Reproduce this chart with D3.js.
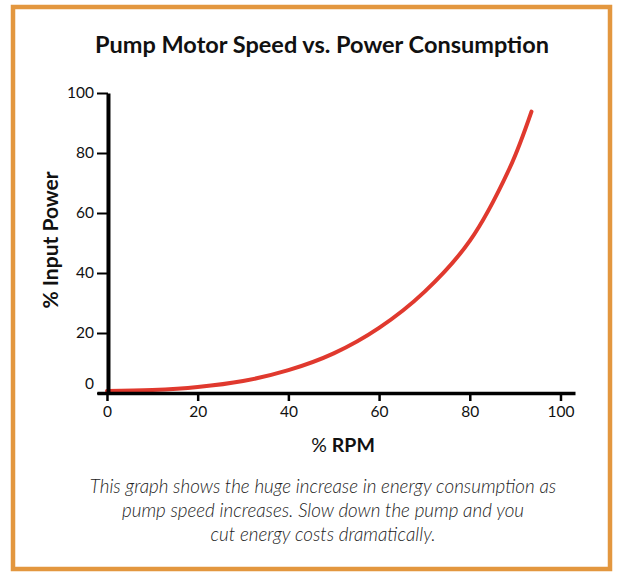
<!DOCTYPE html>
<html>
<head>
<meta charset="utf-8">
<script src="https://cdn.jsdelivr.net/npm/d3@7"></script>
<style>
  html, body { margin: 0; padding: 0; background: #fff; }
  svg { display: block; }
  text { font-family: Lato, "Open Sans", sans-serif; }
</style>
</head>
<body>
<svg id="chart" width="626" height="585"></svg>
<script>
// ---- data ----
const rpm   = [0, 10, 20, 30, 40, 50, 60, 70, 80, 88.8, 93.6];
const power = [0.7, 1.0, 2.0, 4.0, 7.6, 13.2, 21.7, 33.7, 50.7, 75.0, 93.8];
const xTicks = [0, 20, 40, 60, 80, 100];
const yTicks = [0, 20, 40, 60, 80, 100];
const titleText = "Pump Motor Speed vs. Power Consumption";
const xTitle = ["% ", "RPM"];
const yTitle = "% Input Power";
const captionLines = [
  "This graph shows the huge increase in energy consumption as",
  "pump speed increases. Slow down the pump and you",
  "cut energy costs dramatically."
];

const svg = d3.select("#chart");

// frame
svg.append("rect")
  .attr("x", 13).attr("y", 7)
  .attr("width", 597).attr("height", 562)
  .attr("fill", "#fff")
  .attr("stroke", "#E3973F")
  .attr("stroke-width", 4.5);

// title
svg.append("text")
  .attr("x", 322).attr("y", 53)
  .attr("text-anchor", "middle")
  .attr("font-size", 23.5)
  .attr("font-weight", 700)
  .attr("fill", "#111")
  .text(titleText);

// scales
const x = d3.scaleLinear().domain([-2.2, 103.2]).range([97, 575]);
const y = d3.scaleLinear().domain([0, 100]).range([393, 93]);

// curve (drawn first so axes sit on top)
const pts = rpm.map((r, i) => [r, power[i]]);
svg.append("path")
  .datum(pts)
  .attr("fill", "none")
  .attr("stroke", "#E0392E")
  .attr("stroke-width", 4)
  .attr("stroke-linecap", "round")
  .attr("d", d3.line()
    .x(d => x(d[0]))
    .y(d => y(d[1]))
    .curve(d3.curveCatmullRom.alpha(0.5)));

// x axis
const gx = svg.append("g")
  .attr("transform", `translate(0,${y(0)})`)
  .call(d3.axisBottom(x).tickValues(xTicks).tickSize(8).tickSizeOuter(0).tickPadding(5));
gx.select(".domain").attr("stroke", "#000").attr("stroke-width", 3.5);
gx.selectAll(".tick line").attr("stroke", "#000").attr("stroke-width", 2.5);
gx.selectAll(".tick text")
  .attr("font-size", 15.5)
  .attr("fill", "#111")
  .style("font-family", "Lato, 'Open Sans', sans-serif");

// y axis
const gy = svg.append("g")
  .attr("transform", `translate(${x(0) + 1},0)`)
  .call(d3.axisLeft(y).tickValues(yTicks).tickSize(11).tickSizeOuter(0).tickPadding(3));
gy.select(".domain").attr("stroke", "#000").attr("stroke-width", 4);
gy.selectAll(".tick line").attr("stroke", "#000").attr("stroke-width", 2);
gy.selectAll(".tick text")
  .attr("font-size", 15.5)
  .attr("fill", "#111")
  .style("font-family", "Lato, 'Open Sans', sans-serif")
  .attr("dy", d => d === 0 ? "-0.3em" : "0.32em");

// axis titles
const xt = svg.append("text")
  .attr("x", 343).attr("y", 452)
  .attr("text-anchor", "middle")
  .attr("font-size", 19.5)
  .attr("fill", "#111");
xt.append("tspan").attr("font-weight", 400).text(xTitle[0]);
xt.append("tspan").attr("font-weight", 700).text(xTitle[1]);

svg.append("text")
  .attr("transform", "translate(58,240) rotate(-90)")
  .attr("text-anchor", "middle")
  .attr("font-size", 21)
  .attr("font-weight", 700)
  .attr("fill", "#111")
  .text(yTitle);

// caption
svg.append("g").selectAll("text")
  .data(captionLines)
  .join("text")
  .attr("x", 323)
  .attr("y", (d, i) => 493 + i * 24)
  .attr("text-anchor", "middle")
  .attr("font-size", 18.8)
  .attr("font-style", "italic")
  .attr("font-weight", 300)
  .attr("fill", "#222")
  .text(d => d);
</script>
</body>
</html>
